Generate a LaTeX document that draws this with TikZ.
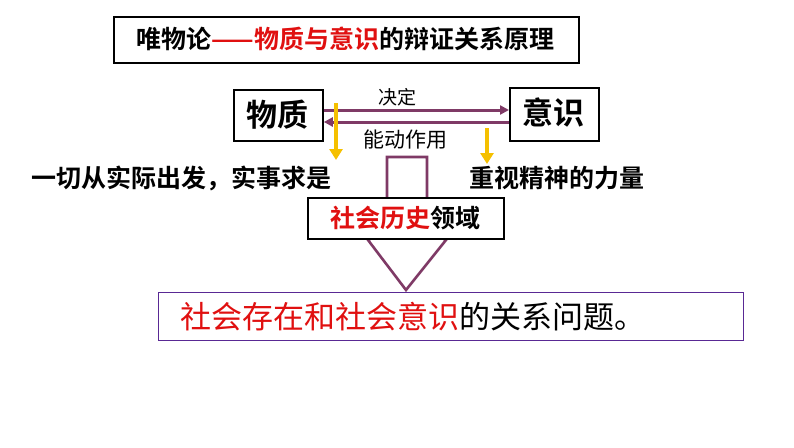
\documentclass[tikz,border=0pt]{standalone}
\usepackage{fontspec}
\newfontfamily\cjk{Noto Sans CJK SC}
\newfontfamily\cjkb{Noto Sans CJK SC Bold}
\usetikzlibrary{arrows.meta}
\definecolor{pur}{HTML}{7F3A66}
\definecolor{yel}{HTML}{F5C000}
\definecolor{red1}{HTML}{E01010}
\tikzset{box/.style={draw=black,line width=1.8pt,fill=white,inner sep=0pt},
 conn/.style={pur,line width=3pt,-{Triangle[length=9pt,width=9pt]}},
 yarr/.style={yel,line width=4pt,-{Triangle[length=11pt,width=13pt]}},
 txt/.style={font=\cjkb\fontsize{25}{25}\selectfont}}
\begin{document}
\begin{tikzpicture}[x=1pt,y=-1pt]
\useasboundingbox (0,0) rectangle (794,447);
% big hollow arrow
\draw[pur,line width=2.6pt,fill=white] (387,157) -- (427,157) -- (427,230) -- (446,240) -- (406,290) -- (368,240) -- (387,230) -- cycle;
\node[box,minimum width=196pt,minimum height=41pt,anchor=north west] (soc) at (307,197) {};
\node[txt] at (405,218) {\textcolor{red1}{社会历史}领域};
% title
\node[box,minimum width=465pt,minimum height=46pt,anchor=north west] (title) at (113,16) {};
\node[txt,font=\cjkb\fontsize{25}{25}\selectfont] at (345.5,39) {唯物论\textcolor{red1}{——物质与意识}的辩证关系原理};
\node[box,minimum width=89pt,minimum height=51pt,anchor=north west] (m) at (233,89) {};
\node[txt,font=\cjkb\fontsize{31}{31}\selectfont] at (277.5,115) {物质};
\node[box,minimum width=89pt,minimum height=53pt,anchor=north west] (c) at (509,87) {};
\node[txt,font=\cjkb\fontsize{31}{31}\selectfont] at (553.5,113) {意识};
\draw[conn] (m.east |- 0,110) -- (c.west |- 0,110);
\draw[conn] (c.west |- 0,122) -- (m.east |- 0,122);
\node[font=\cjk\fontsize{19}{19}\selectfont] at (397,97) {决定};
\node[font=\cjk\fontsize{21}{21}\selectfont] at (405,140) {能动作用};
\coordinate (y1a) at (336,103); \coordinate (y1b) at (336,160);
\coordinate (y2a) at (487,128); \coordinate (y2b) at (487,164);
\draw[yarr] (y1a) -- (y1b);
\draw[yarr] (y2a) -- (y2b);
\node[txt,anchor=west] (l) at (28,178) {一切从实际出发，实事求是};
\node[txt,anchor=west] (r) at (466,178) {重视精神的力量};
% bottom box
\node[draw=pur!70!blue,line width=1pt,minimum width=585pt,minimum height=48pt,anchor=north west] (q) at (158,292) {};
\node[font=\cjk\fontsize{31}{31}\selectfont] at (413,317) {\textcolor{red1}{社会存在和社会意识}的关系问题。};
\end{tikzpicture}
\end{document}
